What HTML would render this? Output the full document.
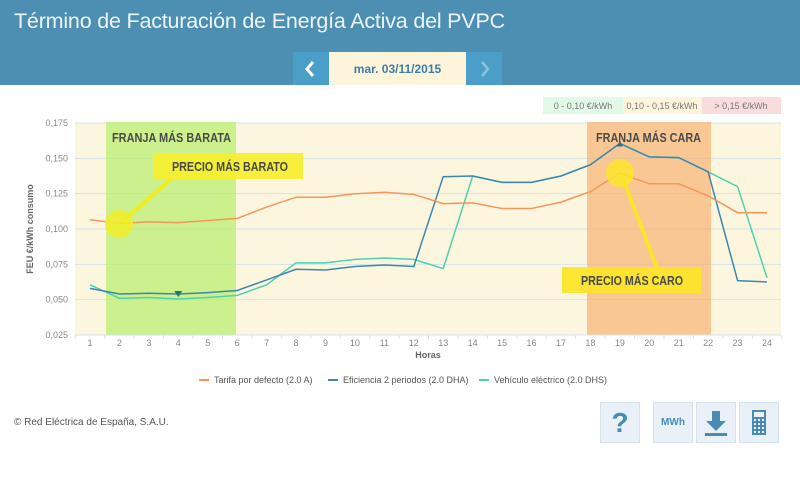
<!DOCTYPE html><html><head><meta charset="utf-8"><style>
body{margin:0;width:800px;height:482px;background:#fff;font-family:"Liberation Sans",sans-serif;overflow:hidden;position:relative}
.hdr{position:absolute;left:0;top:0;width:800px;height:85px;background:#4d8fb3}
.ttl{position:absolute;left:14px;top:9px;color:#eef5fa;font-size:21.5px;letter-spacing:-0.2px}
.nav{position:absolute;top:52px;height:33px;background:#4a9ec8}
.date{position:absolute;left:329px;top:52px;width:137px;height:33px;background:#fdf5db;color:#3d7ea6;font-weight:bold;font-size:12px;text-align:center;line-height:35px}
.btn{position:absolute;top:402px;width:40px;height:41px;background:#e9f0f7;border:1px solid #d4e2ee;color:#4a8bb4;text-align:center;box-sizing:border-box}
</style></head><body>
<div class="hdr"></div>
<div class="ttl">Término de Facturación de Energía Activa del PVPC</div>
<div class="nav" style="left:293px;width:36px"><svg width="36" height="33"><path d="M20 10 L14 17 L20 24" stroke="#fff" stroke-width="3" fill="none"/></svg></div>
<div class="date">mar. 03/11/2015</div>
<div class="nav" style="left:466px;width:36px"><svg width="36" height="33"><path d="M16 10 L22 17 L16 24" stroke="#8cc3de" stroke-width="2.5" fill="none"/></svg></div>
<svg id="c" width="800" height="400" style="position:absolute;left:0;top:0" font-family="Liberation Sans, sans-serif"></svg>
<div style="position:absolute;left:14px;top:417px;font-size:10px;color:#555">© Red Eléctrica de España, S.A.U.</div>
<div class="btn" style="left:600px;font-size:28px;font-weight:bold;line-height:40px">?</div>
<div class="btn" style="left:653px;font-size:10px;font-weight:bold;line-height:40px">MWh</div>
<div class="btn" style="left:696px"><svg width="38" height="39"><path d="M15 8h8v10h6l-10 10-10-10h6z" fill="#4a8bb4"/><rect x="8" y="30" width="22" height="3" fill="#4a8bb4"/></svg></div>
<div class="btn" style="left:739px"><svg width="38" height="39"><rect x="12" y="7" width="14" height="25" fill="#4a8bb4"/><rect x="14" y="9" width="10" height="5" fill="#e9f0f7"/><g fill="#e9f0f7"><rect x="14" y="16" width="2" height="2"/><rect x="18" y="16" width="2" height="2"/><rect x="22" y="16" width="2" height="2"/><rect x="14" y="20" width="2" height="2"/><rect x="18" y="20" width="2" height="2"/><rect x="22" y="20" width="2" height="2"/><rect x="14" y="24" width="2" height="2"/><rect x="18" y="24" width="2" height="2"/><rect x="22" y="24" width="2" height="2"/><rect x="14" y="28" width="2" height="2"/><rect x="18" y="28" width="2" height="2"/><rect x="22" y="28" width="2" height="2"/></g></svg></div>
<script>
const X=h=>90+(h-1)*29.435, Y=v=>335-(v-0.025)*1413.3;
const o=[.1065,.104,.105,.1045,.106,.1075,.1155,.1225,.1225,.125,.126,.1245,.118,.1185,.1145,.1145,.119,.1265,.1395,.132,.132,.1235,.1115,.1115];
const b=[.058,.054,.0545,.054,.055,.0565,.064,.0715,.071,.0735,.0745,.0735,.137,.1375,.133,.133,.1375,.1455,.1605,.151,.1505,.1405,.0635,.0625];
const t=[.0605,.051,.0515,.0505,.0515,.053,.0605,.076,.076,.0785,.0795,.0785,.072,.1375,.133,.133,.1375,.1455,.1605,.151,.1505,.1405,.130,.0655];
const pts=a=>a.map((v,i)=>X(i+1).toFixed(1)+","+Y(v).toFixed(1)).join(" ");
let s='';
s+='<rect x="543" y="97" width="80" height="17" fill="#e3f8e6"/><text x="583" y="109" font-size="9" fill="#777" text-anchor="middle">0 - 0,10 €/kWh</text>';
s+='<rect x="623" y="97" width="79" height="17" fill="#fdf5db"/><text x="662" y="109" font-size="9" fill="#777" text-anchor="middle">0,10 - 0,15 €/kWh</text>';
s+='<rect x="702" y="97" width="79" height="17" fill="#fbdcdc"/><text x="741" y="109" font-size="9" fill="#777" text-anchor="middle">&gt; 0,15 €/kWh</text>';
s+='<rect x="75" y="123" width="706" height="212" fill="#fdf6de"/>';
[.175,.15,.125,.1,.075,.05,.025].forEach(v=>{s+=`<line x1="75" x2="781" y1="${Y(v)}" y2="${Y(v)}" stroke="#d3e3ea"/><text x="68" y="${Y(v)+3}" font-size="9" fill="#888" text-anchor="end">${v.toFixed(3).replace('.',',')}</text>`});
s+='<rect x="106" y="122" width="130" height="213" fill="#b9ee72" opacity="0.75"/>';
s+='<rect x="587" y="122" width="124" height="213" fill="#f7ad6a" opacity="0.65"/>';
for(let h=1;h<=24;h++){s+=`<text x="${X(h)}" y="346" font-size="9" fill="#888" text-anchor="middle">${h}</text>`;}
for(let h=1;h<=25;h++){s+=`<line x1="${X(h)-14.7}" x2="${X(h)-14.7}" y1="335" y2="339" stroke="#d3e3ea"/>`}
s+='<line x1="75" x2="781" y1="335" y2="335" stroke="#d3e3ea"/>';
s+=`<polyline points="${pts(t)}" fill="none" stroke="#4fd0b0" stroke-width="1.5"/>`;
s+=`<polyline points="${pts(b)}" fill="none" stroke="#3f86ad" stroke-width="1.5"/>`;
s+=`<polyline points="${pts(o)}" fill="none" stroke="#f5975a" stroke-width="1.5"/>`;
s+=`<path d="M${X(4)-4} ${Y(.054)-3}h8l-4 6z" fill="#1d7a6a"/><path d="M${X(19)-3} ${Y(.1605)+3}h6l-3-6z" fill="#3d6d86"/>`;
s+='<circle cx="119" cy="224" r="14" fill="#f1ee2a" opacity="0.85"/><circle cx="620" cy="173" r="14" fill="#fbe52a" opacity="0.85"/>';
s+='<line x1="122" y1="222" x2="172" y2="178" stroke="#f0ed20" stroke-width="4"/><line x1="622" y1="176" x2="657" y2="268" stroke="#fbe52a" stroke-width="4"/>';
s+='<rect x="153" y="153" width="150" height="26" fill="#f6ee2a" opacity="0.9"/><text x="172" y="171" font-size="13" font-weight="bold" fill="#4a4a4a" textLength="116" lengthAdjust="spacingAndGlyphs">PRECIO MÁS BARATO</text>';
s+='<rect x="562" y="267" width="139" height="26" fill="#fbe52a" opacity="0.95"/><text x="581" y="285" font-size="13" font-weight="bold" fill="#4a4a4a" textLength="102" lengthAdjust="spacingAndGlyphs">PRECIO MÁS CARO</text>';
s+='<text x="112" y="142" font-size="13" font-weight="bold" fill="#4a4a4a" textLength="119" lengthAdjust="spacingAndGlyphs">FRANJA MÁS BARATA</text>';
s+='<text x="596" y="142" font-size="13" font-weight="bold" fill="#4a4a4a" textLength="105" lengthAdjust="spacingAndGlyphs">FRANJA MÁS CARA</text>';
s+='<text x="428" y="358" font-size="9" font-weight="bold" fill="#666" text-anchor="middle">Horas</text>';
s+='<text transform="translate(33,229) rotate(-90)" font-size="9" font-weight="bold" fill="#666" text-anchor="middle">FEU €/kWh consumo</text>';
s+='<line x1="199" x2="209" y1="380" y2="380" stroke="#f5975a" stroke-width="2"/><text x="214" y="383" font-size="9" fill="#555">Tarifa por defecto (2.0 A)</text>';
s+='<line x1="328" x2="338" y1="380" y2="380" stroke="#3f86ad" stroke-width="2"/><text x="343" y="383" font-size="9" fill="#555">Eficiencia 2 periodos (2.0 DHA)</text>';
s+='<line x1="479" x2="489" y1="380" y2="380" stroke="#4fd0b0" stroke-width="2"/><text x="494" y="383" font-size="9" fill="#555">Vehículo eléctrico (2.0 DHS)</text>';
document.getElementById('c').innerHTML=s;
</script>
</body></html>
